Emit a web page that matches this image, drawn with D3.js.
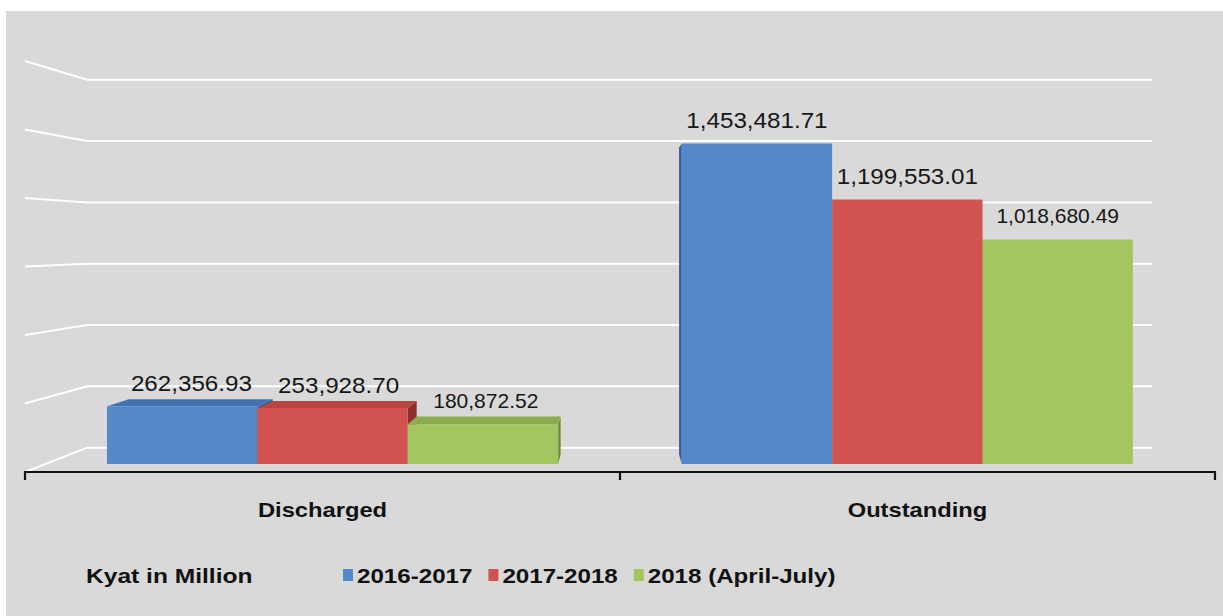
<!DOCTYPE html>
<html><head><meta charset="utf-8">
<script src="https://cdn.jsdelivr.net/npm/d3@7"></script>
<style>html,body{margin:0;padding:0;background:#fff;} svg{display:block;}</style>
</head><body><svg id="c" width="1223" height="616"></svg>
<script>
// ---- data ----
const categories = ["Discharged", "Outstanding"];
const seriesNames = ["2016-2017", "2017-2018", "2018 (April-July)"];
const values2016_2017 = [262356.93, 1453481.71];
const values2017_2018 = [253928.70, 1199553.01];
const values2018AprJul = [180872.52, 1018680.49];
const gridTicks = [0, 300000, 600000, 900000, 1200000, 1500000, 1800000];
const unitLabel = "Kyat in Million";

const seriesValues = [values2016_2017, values2017_2018, values2018AprJul];
const frontColors = ["#5389c9", "#d0534f", "#a4c661"];
const topColors   = ["#4173b3", "#b84541", "#8cab4e"];
const sideColors  = ["#34609a", "#8f2f2d", "#6f8c38"];
const labelSize   = [22, 22, 21];
const labelStretch = [1.1, 1.1, 1.0];
const FONT = "'Liberation Sans', Arial, sans-serif";
const fmt = d3.format(",.2f");

const svg = d3.select("#c");
svg.append("rect").attr("x", 6).attr("y", 11).attr("width", 1217).attr("height", 605).attr("fill", "#d9d9d9");

// simple perspective: vanishing point + depth factors
const vp = [618, 240];
const proj = (x, yy, k) => [vp[0] + (x - vp[0]) * k, vp[1] + (yy - vp[1]) * k];
const kWall = 0.895, kBar = 0.966, kBarBack = 0.925;

const y = d3.scaleLinear().domain([0, 1800000]).range([472, 61]);
const x0 = d3.scaleBand().domain(categories).range([25, 1215]);
const groupW = 467;
const x1 = d3.scaleBand().domain(seriesNames).range([0, groupW]);

// gridlines: side wall + back wall
const gl = svg.append("g");
gridTicks.forEach(t => {
  const a = [25, y(t)], b = proj(25, y(t), kWall), c = proj(1215, y(t), kWall);
  gl.append("polyline").attr("points", [a, b, c].map(p => p.join(",")).join(" "))
    .attr("fill", "none").attr("stroke", "#ffffff").attr("stroke-width", 2);
});

// bars
const bars = [];
categories.forEach((cat, ci) => {
  seriesNames.forEach((s, si) => {
    const xl = x0(cat) + (x0.bandwidth() - groupW) / 2 + x1(s);
    const xr = xl + x1.bandwidth();
    bars.push({ci, si, v: seriesValues[si][ci], xl, xr, yt: y(seriesValues[si][ci]), yb: y(0)});
  });
});
bars.sort((a, b) => Math.abs((b.xl + b.xr) / 2 - vp[0]) - Math.abs((a.xl + a.xr) / 2 - vp[0]));
const bg = svg.append("g");
const poly = (pts, fill) => bg.append("polygon").attr("points", pts.map(p => p.join(",")).join(" ")).attr("fill", fill);
bars.forEach(d => {
  const FLt = proj(d.xl, d.yt, kBar), FRt = proj(d.xr, d.yt, kBar);
  const FLb = proj(d.xl, d.yb, kBar), FRb = proj(d.xr, d.yb, kBar);
  const BLt = proj(d.xl, d.yt, kBarBack), BRt = proj(d.xr, d.yt, kBarBack);
  const BLb = proj(d.xl, d.yb, kBarBack), BRb = proj(d.xr, d.yb, kBarBack);
  if (d.xr < vp[0]) poly([FRt, FRb, BRb, BRt], sideColors[d.si]);
  if (d.xl > vp[0]) poly([FLt, FLb, BLb, BLt], sideColors[d.si]);
  if (FLt[1] > vp[1]) poly([FLt, FRt, BRt, BLt], topColors[d.si]);
  poly([FLt, FRt, FRb, FLb], frontColors[d.si]);
  d.topVisible = FLt[1] > vp[1];
  d.cx = d.topVisible ? (FLt[0] + FRt[0] + BLt[0] + BRt[0]) / 4 : (FLt[0] + FRt[0]) / 2;
  d.ly = d.topVisible ? BLt[1] - 8 : Math.min(FLt[1], BLt[1]) - 16;
});

// value labels
bars.forEach(d => {
  svg.append("text").attr("transform", `translate(${d.cx},${d.ly}) scale(${labelStretch[d.si]},1)`)
    .attr("text-anchor", "middle").attr("font-family", FONT).attr("font-size", labelSize[d.si])
    .attr("fill", "#161616").text(fmt(d.v));
});

// category axis
const ax = svg.append("g");
ax.append("line").attr("x1", 25).attr("x2", 1215).attr("y1", y(0)).attr("y2", y(0))
  .attr("stroke", "#111").attr("stroke-width", 2.2);
const tickXs = [x0.range()[0], ...categories.slice(1).map(c => x0(c)), x0.range()[1]];
tickXs.forEach(tx => ax.append("line").attr("x1", tx).attr("x2", tx).attr("y1", y(0) - 1).attr("y2", y(0) + 8)
  .attr("stroke", "#111").attr("stroke-width", 2.2));
categories.forEach(c => {
  ax.append("text").attr("transform", `translate(${x0(c) + x0.bandwidth() / 2},517) scale(1.13,1)`)
    .attr("text-anchor", "middle").attr("font-family", FONT).attr("font-weight", "bold")
    .attr("font-size", 21).attr("fill", "#111").text(c);
});

// legend
const lg = svg.append("g");
lg.append("text").attr("transform", "translate(86,583) scale(1.17,1)").attr("font-family", FONT)
  .attr("font-weight", "bold").attr("font-size", 21).attr("fill", "#111").text(unitLabel);
let lx = 343;
seriesNames.forEach((s, i) => {
  lg.append("rect").attr("x", lx).attr("y", 569).attr("width", 10).attr("height", 12).attr("fill", frontColors[i]);
  const t = lg.append("text").attr("transform", `translate(${lx + 14},583) scale(1.15,1)`).attr("font-family", FONT)
    .attr("font-weight", "bold").attr("font-size", 21).attr("fill", "#111").text(s);
  lx += 14 + t.node().getComputedTextLength() * 1.15 + 16;
});
</script>
</body></html>
